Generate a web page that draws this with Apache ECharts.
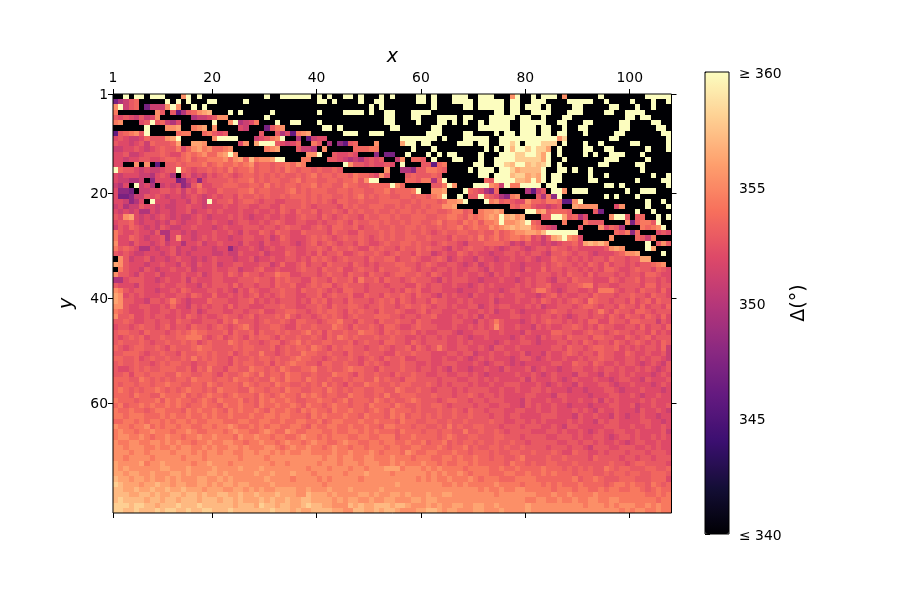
<!DOCTYPE html>
<html><head><meta charset="utf-8">
<script src="https://cdn.jsdelivr.net/npm/echarts@6/dist/echarts.min.js"></script>
<style>html,body{margin:0;padding:0;background:#fff}#c{width:900px;height:600px}</style>
</head><body><div id="c"></div>
<script>
const xTicks=[1,20,40,60,80,100];
const yTicks=[1,20,40,60];
const levelCodes={'0':340,a:345,b:346,c:347,d:348.2,e:349.7,f:351,g:352,h:352.8,i:353.5,j:354.4,k:355.3,l:356.2,m:357.1,n:358,o:359,Z:360};
const rows=[
"00Z0ZZ0ZZZ 000kZ0Z000 000000000Z 00ZZZZZZ0Z 0Z00ZZ0Z00 0Z0Z0000ZZ 0Z000ZZZ00 ZZZ000kZ00 Z0ZZZ0k000 000Z000000 00ZZZZZ",
"cefhi00000 Z0Z0Z000ZZ 00000Z0000 000000000Z Z0Z0000Z00 ZZ000000ZZ 0Z000ZZZZ0 ZZZZZ0ZZ00 ZZZ0000ZZZ ZZ00Z0000Z 000Z00Z",
"kZfhi0cfff kZk00Z0Z00 0000000000 0000000000 000000000Z 0Z00000000 0Z00000ZZ0 ZZZZZ0ZZ0Z ZZ0Z0000ZZ 00000ZZ000 Z00Z000",
"j0000000kh 0hbehiklm0 00Z0Z00000 Z00000000Z 0000ZZZZ0Z 00ZZ000ZZZ Z000000000 000ZZ0ZZ00 ZZZZ000ZZZ 0000ZZ00ZZ ZZ00000",
"hghgfhfgk0 00000effgh kk0000000Z 0000000000 0000000000 00ZZ000ZZ0 00ZZZZ0ZZ0 00ZZZZZ0ZZ 00Z000ZZ00 00000000ZZ 0ZZ0000",
"jk000ghZhi feg000000Z 00kZefgj00 0Z00ZZ000Z 0000000000 00ZZ0000Z0 00ZZ0Z0Z00 Z0ZZZZ00ZZ ZZZ00ZZ000 ZZ00000ZZ0 000ZZ00",
"000000Z000 kkl00jkl0k 0000gf000c hjk0000000 ZZ0Z000000 000ZZ00000 0ZZ0000000 ZZZZZZ00ZZ Z0ZZ00Z00Z Z000000ZZ0 0000ZZ0",
"bhijkhZ000 00ijj00ijh gh000000h0 0hegbjkl00 0000ZZZ00Z ZZ00000000 ZZZ0000ZZ0 000Z0ZZ0ZZ Z0ZZ0ZZ000 Z00000ZZ00 00000ZZ",
"ghgffgihhh klZ000000k ZZZZ000fgh jkZ00e0bfg g000000000 00000ZZZZZ ZZ0Z000ZZZ ZZ00ZZZZZZ ZZZZZkn000 00000ZZ000 000000Z",
"hggfghfihh hil00llk00 0000gk0lZZ Zhgfgi00jh 0e0dbhi000 k0000lZZ0Z Z00000ZZZ0 ZZ00ZZnZ0Z ZZnnn0Z000 Z00Z00000Z Z00000Z",
"ffgghgfghi hhjgikljki ijk000000j kl000hffe0 k00000iiij j000000Z00 0Z00000000 0Z0Z0ZmZZn Znnl0Z0000 ZZ00ZZ0000 00Z000Z",
"gghffghhhi hggijijkii klZk000000 0000000kkZ 00hgghg000 d0cc00Z000 Z0Z0ZZ0000 Z000ZZZnnZ ZnlZ0Z0000 Z0Z00ZZZ00 0Z00000",
"ggfgghhggh iihijhiijj jkiklimjkk lZZ000jj00 0hhgfefegh gh00fk0iih 0Z000ZZ000 Z00ZZZZnnn nnlZ00Z000 0000ZZZ000 00Z0000",
"gg00k0k0b0 hhihiiijhi jiijijkhii hiijikj000 0000Zkhhgh gghg0Z000h hbij00000Z Z00ZZnmZZm nmnZ0Z0000 000ZZ00000 ZZ00000",
"Zihhgfgffg hhZihghhih ihjhiijhii hihjihiihi hhih000000 00k00eedhh jjih0000Z0 ZZZ0ZZnlmm mmZ00ZZ0Z0 0Z00000000 0Z00000",
"gfgggffegh ge0ghfgfhg hihghiihih ihihhihijh iihiihjiih gkh000hihh hih0000000 ZZ0ZZZmnnl mlZ0ZZ0000 0Z00Z00000 000Z00Z",
"gffeef0dgg ggcdfgdghh hhihiijhih iihhijhiih hiihiijhkZ Z00000iihj jeiZ000000 0ihZZZZmml ZlZ0ZZ0000 0ZZ0000000 Z0000ZZ",
"feg0Zfge0f gfgdehjggh hiiihhiihj hihiihiijh iihhjiihhi iiiZki0000 0hhjZk000Z ZZkjfZjjZZ ZZ0ZZ00000 0000ZZ0Z00 000000Z",
"gddc0ffggh hghfhgihgg ihhhiijhii hhhijhihii ihhiihiihh iijhiiijZ0 0kkl000Zih gedi00000e bfh0ZZk0ZZ Z0000000Z0 0ZZZ000",
"gccdffhghg fggfghgfgh ghhgihhihi hhihiiihih iihhihijhi hiihhiihii hjkZ00Z0hh Zihgedjk00 0hejdZ0000 0000Z0Z000 Z000000",
"ggfdeg0Zgg gfggfhgfZg hhighiihgh hgghhhihih ihgiihhihh hiiiihhihi iihikklZ00 0Zjkhihggk iihjjibbkZ 0000000000 00Z00Z0",
"fgeffhggfg ffgghggfgg ghgghhgghh ggihhhihgh hhhgihihhi iihhihihhi hiikkl0000 000000ihjj hggfgh00lk kkk000gk00 00Z000Z",
"gfgfgeegfg gfgghfgghg hggghgghgg hgihgihhig hhihgihihh ihhihiihih iihhijjhi0 jkklk0000Z Zklhiiih00 00hc000000 Z00Z000",
"hgklgfgfgh gfgffghgfg gghghgfggh gghgghihhg ihghihhgih hiihihhiii hhiijjihji jklkZlmkl0 00hhZZlhie g0000kZZh0 hi00Z0Z",
"ghhigfggfg fhgfgghggh ggfghhgghg hihgghhggh ghhihgihhi ihihhihiih hijhiihjij hjjkZkklmZ ih0000j000 jhhh0000kc hjjhZ00",
"fhgihgfgfh gffgghgggf ghggghhhgh hghihhgghi hgiihhighh ihhihhiihi hhihiijhij iikjklmlmm jihgf0000h 000kgihe00 0jijkZ0",
"jhgghggfhe eggfgfgggh gghgfhggih gihhggihhh hgihhggihh hihihhihhi hghihhiihh ihhjhijkkl lkmZZZZZZ0 000000ihjd i000ghg",
"jggihgfggh egkggfghgh ggfgghhggh fgihggghih ihghihhihg hihihhiihh ihhhgihhih jhijhijjij ghfhlmZkjg 00000k0000 ihfj000",
"kggfhggfgh fggegghfgg hgggfhggfh gghhgfghig hihghhgihg ghihhiihih hghihhgfhh hiiiihfgfh ggfgfghhig lmlmk00000 00Z0hkh",
"jhihgeegfg ghfggfgggf ggdfgghgfg hgghhgghhi hgihhihggi hihhgihhih ihhgfhghih hghgfghhgf ghhgihhghg gggghklk00 00Zl000",
"hghgffgggf ghfgfggggf fgffhggghf gggihgghgi ghhigghihh ihghihhgih hfghggihgh ggfgghhghg hhgfhhihgh hgfggghikk l0000Z0",
"0khfgghfgg fghggfgfgh gggfgghfgg hgghhghgih ihghihhhgi hhiighhihg ghihfghggf hggfgghggh gfggihhghg hghhgihhgh hll0000",
"lkhgggfggh ggfhgfhggh fgghhggghh fgigghighh gihhhgihgh ghhhiihhgh ihgghhgfgh fghgghggfg gghghihhgh gihgighhgh ghhijk0",
"0jhggfhgfg ghgghfgggh gghhfgghig ghggghihhg ihhigghihh gihhhiihgh hghhghgghh gfhgghggfh ggighhghhg hghgiihggh ihhgihg",
"khhgfhgghf ggghgghfgh hgihgihhgh hjiigghhhg hihhgihhgi hhghiihhih gihgghghgg hgfhghghgg ghhhghgihh gighhhghgh hgiihgg",
"eeghhhggfg hgghfhgggh hggghhhihh gihihhggih hgihhigjhh igihhghihh hgfhghhhgg fggghggfgh ghhgfhhgih hhgggihghh ighhghg",
"hgggfhgggh gghhggfhgh hhgighhghh gihhigghih iighihhhgh hhghhhggih ghhgghggfg hghgggghgh ghhiggghhi jjghhgghhh hgiighh",
"kjhghhggfg ghgihggghh ghgfhgihgg hhihhgihhi hghgiihhgh hhhghgihig ghhgggfggg hgggfghhgg hjjhgfghhg ghgjjjhghh gihhgig",
"lkghghgggh gghhgihggi gghghghigh ghihhgghhi ghihhiggih hgihhihgih hgfhghggfh gghghgghhg gfghighggh hgihhhghhi hhgihhg",
"lkhhggfhhg hjhgfgggih hhgghhighg hghhhghgih ighhgihhhg hihigihghh gihhgghghg gghfggghgg hgihghghih gjihhghhgi ghigihh",
"kkhgghhggh giggfhghgh hgighhgggh hhihhgghhi hgihhiihgh hihhghihhi hghhghgghh fghghhgggh ghfgghhhgh iihghhgihh gighhgi",
"jihggghggh hghgghfghh hgghhghhig ghhiihhghi hiihgihihh gihhihgghi ghhggghhgg hghfgghgfg ggghihhghh hghjhgihhg iihghhh",
"khhigghghh gghgihghgg hihhghighh hihjhghhgh ihihghihhh iiihhghhgh higgghghgh fhgggghhgg hghhghgfgh hghhgihgih hgihgig",
"hhihgghhgh hgihhgghhh gihjhhhghi hhihgiihhg hiijhhgihh gihhihhgih hgggghhggf hghjhgggfg hghihhghgh giiggihhgi ihhhfhg",
"ghhghihhgh ighhgihhgh ihghijhghh iihggihhih hhjihgihhi hgiihgghih hhggghgghg hghkhgghgg fhghgghhih ghgihhgghh gighhgi",
"hiihhgihhh ghihijiihh higihhigih hihihhijhi gihhihhjii hgihihhigh gghhhgfggh hhgghgggfh ggggiihhgg hihhghihhg hhgighg",
"hghihighhi hhiijjjhgh ighihgihii hgihhihhih gihjihihhh ihhihhgghg hhghgghgfg ghggggfghg gfhghhgihh hgiihhggih ghighhh",
"hihhhihghh ihhihighih hhjihihhgh iighijhihh iihhhighih hgiihhgihg hhhhgghghg gggfghgghh gfggghhghg ihghhgihgh ihghgih",
"ihghiihhih gihhhijiih hhhihiihhh ighihiihji hgihiihhgh hihghhigih ghjhgghhgg hgfhhgghgg gggghhgihh ghiihhighg hghhgif",
"hhiiihghhi hhgihhiihi hhighihhjh hghihhjiih hihhgihhih hhggihhihh hggghhghhf gghgghgghf ggfhgghihg hhgihhggih gghgghf",
"iihhighihh ihhihjhihi hhgihhihii hihhijiihh ghihhihghi hgihhigghh hgghgghgfg hghgggfghh gfghgghggh ghhihhgghh ghghhgf",
"hihhihhghi hiihhghhii hhgihiihhi gihijiihhg iihhihhgih ihghhihhgg hgghhhgggh gfghhgfgfg gggghhggih hgihgghghh gfghgfh",
"hgghihihhi iihhigihjh hgiihhjiih ihjihhiijh hihhijiihh gihhhihhgh hghgfhggfg ghggfhgggh fghggfgghh gghghhghgg hghgfgh",
"hhigiihiii hhjiihhiih gihhijihjh iihjiihhih hhjiihgihh ihhgihhihh gghhgghhgh gfggggghgg hgfghgggfh hggfhgghgh gggfghg",
"iiihhjihih ihiihjiiih iihjiihihh jihjiihjih hihhihiihh jhihhgiihh hhghhhgghh ghghgggghf hggghgfghg gghggfghhg gfhgggh",
"ihiihiihii jiihhiihji hiiihjihii hjiihhihih jhihgihhji ihhihiihhh ihghghhhgh gghgghhhgg ghgfghggfh ggghhgfggh gggfghg",
"ijihihiiji hihijiihih jiiihhjiih iihjiihhii hjihihiihh iihhjihhih hghhhghghh hhgghgghgg hhghgggfgg fggghhgfgg ghgggfg",
"iiihjiihhj iiijhihiji ihijiiihji hijiihjiji hiihhjiihh ihjhhiiihh hihhhghhih ghhghggggh hgggfhhggg gfggghhggh gfgghgg",
"jiiihiiijh jijiihijih jiiijhihji jiijihhiij iihijhiiih jihihhijih hhghiihhgh hghhhgggfh ggghgghggh gghfhghggg ghghggg",
"ijhiijijii jijihiijii hjiijiihji ijiijihjii hijiihiihj iiihjihhih hiihghhhhg hhgghhggfh ghgghggfgg gfggghhggh fgghggh",
"jiijiihijj iiihjijiij ihjijiijih jiijihjiji ihjiijiihi jihjiiihih hhihhihgih hghhhgghhg ghgghggghg hgfhgghggg fhgghgf",
"jjijjjiiij ijiijiijij iijiiijiij jijjiiihji jiiijiihji iihjijhiih ihihhihhih hhghhghhgg gghhhgggfh gghggfhgfg ghggfgg",
"iijjijijji jijjijiijj jiiijjiijj iijiijjiij hijjiiijii jiiihjiihh iihhihhihh hhihhgghhg hghgggghgh ggfhghhggg ghhggfg",
"kjjijjkiji jjijjiijji jjkjiijiji jjiijjihji ijjiijiiji ihjjiiihii hhihjhihhi ihhhghhhgh hhgghgfhhg gggghhhggh gghgghg",
"jkjjijjkjj jijjkjiijj jijkjjiijk jiikjiijjj iijiijjiji jiiihjiiih iihiihhjhh ihhihghhhh ggghhghggh gfghgghhgg hgggghf",
"jkkjjkjijj kjjijjkjjk jjjikjjkjj ijjiijkjji jijjjiijji ijjjhiijii iihijihhii hhhiihhhgh hhhgghhhgh gghhgfghhg hgghghg",
"kjjkkjjkkj kjkjjijjkj jkkjjijjkj jijkjjijkj jiijkjjiij jijjiijiij hiijhihiih ihhihhihhg hhhhhgghhg hhghgghgfg hhgghgg",
"kkjkkkjjkj jkjkkjjkjk jjkkjkjjjk kjijkjjkjj ijkjjijjij jjijjiijji iijihiijhi hhiihihhih hhhghhhghh gfhhhgghhh gghghgg",
"kkkjkkjkkk kjkkkjkjkk jkkjjkkjkk jkjkjjkkjj jjkjjkjjjk jijjjikjii jjiiijiihi iihihhiihh ihhhihggih hgghghhhgh hhghhhg",
"kkjkkkkjkk kkkjkkkjkk kkkkjkkkkj kkkkkkkkkk jkkjkkjjkk jjjkjjjijj jiijjijiij iihiihhijh hhhihhihhh hgihhhhghh ghhghhh",
"lkkkkljkkl kkkkkjkklk kkjkkkkkkk jkkjkkkkkj kkkjkkkjkk kjjkjkjjjk jjijiijjij iiiiihjiih ihhiihhhih hhhhhihhgh iihhhhg",
"lklkkkkkkl lkkklkkkkl kkkklkkklk kkkkkkkjkk kjkkkjkkjk kkllljkkkj kjkjjjjijj jjiijiijii iijiiihihi hihhjihiih hhiihhi",
"llkllkklkk kllklkkkll klkkkkklkk lkkklkkkjk kkkkjkkklk kkkjkkkkkk jkjkjjkjij jjiiijjiij iijijiiihi iihhihiihi ihhiiih",
"mllkllklkk lklkkkllkk lklkkkkkkl kkkkjkkkkj kjkkkkkjkk kkkkkkkkjk jkjjkjjjkj ijjjiiijjj jiiiiiiijh iijihhhiii hhhiiig",
"nmlllkllml lkllkkllkl kllkllkkkk lkkkkkkkkk jkkkkkkkkk kkkklkkkkk kkkjjkjkjj jjjkjjjjij jjijijiiij iiiihijjij iihjihi",
"mmllmllmll mllmlllkll lkkllklklk kllllkklkk klkkklkkkk klkkkkkkkk kkkkkkkkkk jkjjkjjkkj jjjjijjjij jiijijjiij jihijii",
"mmmllmmlml lmmlmmlmll mmllmllmll lmlllkkmll lklkkkkllk lkkllklkkk lkkllkkkkk kkkjkkkkkk kjjjkjjkjj jjkjjjjjjj jjiijij",
"mnmmmmlmml mmlmmmlmmm lmmlmlllml mllmllmmll llklkllkkl kkllkkkllk llkkkkkkkk kkkkkkkkkj jkkjjkjjkj jkkjjkkjjj jjjjijj",
"nnnmnnmmlm mmnmmmnmmm mmmlmmmlnm mlmmllmnmm llkkkmlmll mmmlmmlkkk lklkkllkkl lkklkkkkkl kkkkkkkkkk jkkkjkjkkk jjkjkjj",
"nnmmnmmmnm nnmmnmmnnm mmnmmmmmmm nmmmlmllmm mmllkkmmll mlmmlkkkll mmlkllkkkl lkkklkkkkl kkkkkkkkkk kkkkkkkjkj kkjjkjj"
];
const magma=['#000004','#140e36','#3b0f70','#641a80','#8c2981','#b73779','#de4968','#f7705c','#fe9f6d','#fecf92','#fcfdbf'];
const ff='"DejaVu Sans"';
const cells=[];
rows.forEach((r,j)=>{[...r.replace(/ /g,'')].forEach((ch,i)=>{cells.push([i+1,j+1,levelCodes[ch]]);});});
const frame={show:true,borderColor:'#000',borderWidth:1,backgroundColor:'transparent'};
const tick={show:true,length:5,lineStyle:{color:'#000',width:1}};
const labelRich=(top)=>({a:{fontFamily:ff,fontSize:13.9,color:'#000',padding:[top,0,0,0]}});
const chart=echarts.init(document.getElementById('c'),null,{renderer:'canvas'});
chart.setOption({
 animation:false,backgroundColor:'#fff',
 textStyle:{fontFamily:ff},
 grid:[
  Object.assign({left:113,top:94,width:558.5,height:419,z:5},frame),
  Object.assign({left:705,top:72,width:24,height:462,z:5},frame)
 ],
 xAxis:[
  {type:'value',gridIndex:0,position:'top',min:1,max:108,splitLine:{show:false},
   name:'x',nameLocation:'middle',nameGap:23,nameTextStyle:{fontFamily:ff,fontStyle:'italic',fontSize:19,color:'#000'},
   axisLine:{show:false},axisTick:Object.assign({customValues:xTicks},tick),
   axisLabel:{customValues:xTicks,fontFamily:ff,fontSize:13.9,color:'#000',margin:9,showMinLabel:true}},
  {type:'value',gridIndex:0,position:'bottom',min:1,max:108,splitLine:{show:false},
   axisLine:{show:false},axisTick:Object.assign({customValues:xTicks},tick),
   axisLabel:{show:false}},
  {type:'value',gridIndex:1,min:0,max:1,show:false}
 ],
 yAxis:[
  {type:'value',gridIndex:0,position:'left',inverse:true,min:1,max:81,splitLine:{show:false},
   name:'y',nameLocation:'middle',nameGap:36,nameRotate:90,nameTextStyle:{fontFamily:ff,fontStyle:'italic',fontSize:19,color:'#000'},
   axisLine:{show:false},axisTick:Object.assign({customValues:yTicks},tick),
   axisLabel:{customValues:yTicks,margin:5,formatter:v=>'{a|'+v+'}',rich:labelRich(2)}},
  {type:'value',gridIndex:0,position:'right',inverse:true,min:1,max:81,splitLine:{show:false},
   axisLine:{show:false},axisTick:Object.assign({customValues:yTicks},tick),
   axisLabel:{show:false}},
  {type:'value',gridIndex:1,position:'right',min:340,max:360,interval:5,splitLine:{show:false},
   name:'Δ(°)',nameLocation:'middle',nameGap:61,nameRotate:90,nameTextStyle:{fontFamily:ff,fontSize:19,color:'#000'},
   axisLine:{show:false},axisTick:tick,
   axisLabel:{margin:10,rich:labelRich(4),
    formatter:v=>'{a|'+(v===360?'≥ 360':v===340?'≤ 340':String(v))+'}'}}
 ],
 visualMap:[{type:'continuous',seriesIndex:0,dimension:2,min:340,max:360,calculable:false,
  inRange:{color:magma},left:705,top:72,itemWidth:24,itemHeight:462,text:['',''],
  showLabel:false,hoverLink:false,padding:0,realtime:false,z:4}],
 series:[{type:'custom',xAxisIndex:0,yAxisIndex:0,coordinateSystem:'cartesian2d',
  data:cells,encode:{x:0,y:1},progressive:0,silent:true,z:2,
  renderItem:(p,api)=>{
   const a=api.coord([api.value(0),api.value(1)]);
   const b=api.coord([api.value(0)+1,api.value(1)+1]);
   const x0=Math.round(a[0]),y0=Math.round(a[1]);
   return {type:'rect',shape:{x:x0,y:y0,width:Math.round(b[0])-x0,height:Math.round(b[1])-y0},
    style:{fill:api.visual('color')}};
  }}]
});
</script></body></html>
